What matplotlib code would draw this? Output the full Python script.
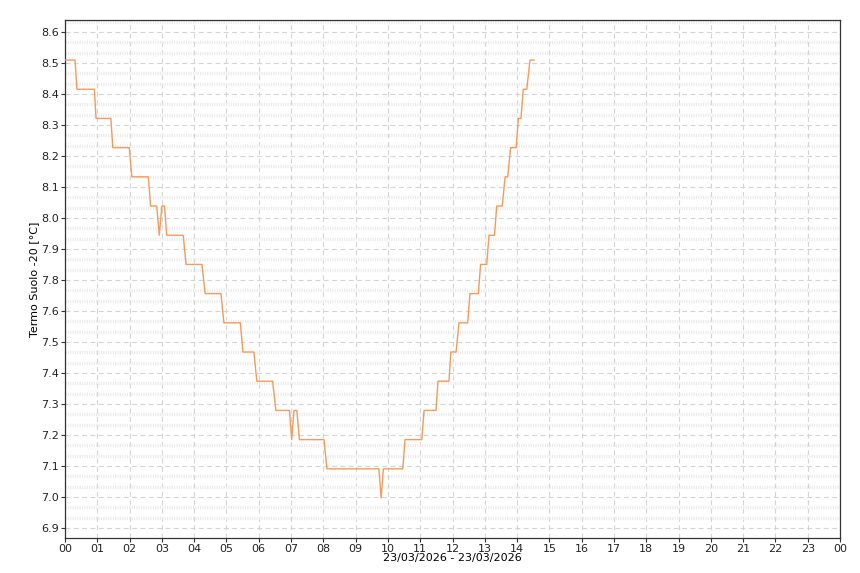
import numpy as np
import matplotlib.pyplot as plt
from matplotlib.ticker import FixedLocator, FormatStrFormatter

plt.rcParams['lines.scale_dashes'] = False

# polyline vertices (hours of 23/03/2026, degrees C)
hours = [0.00, 0.31, 0.37, 0.91, 0.96, 1.42, 1.48, 1.99, 2.07, 2.58,
         2.65, 2.84, 2.92, 3.00, 3.08, 3.15, 3.66, 3.75, 4.24, 4.34,
         4.83, 4.92, 5.43, 5.51, 5.85, 5.94, 6.43, 6.53, 6.95, 7.02,
         7.09, 7.18, 7.26, 8.02, 8.11, 9.72, 9.79, 9.86, 10.46, 10.53,
         11.05, 11.12, 11.49, 11.55, 11.89, 11.95, 12.11, 12.20, 12.47, 12.54,
         12.80, 12.87, 13.06, 13.13, 13.30, 13.37, 13.54, 13.63, 13.71, 13.80,
         13.97, 14.04, 14.12, 14.19, 14.30, 14.40, 14.53]
temps = [8.506, 8.506, 8.406, 8.406, 8.306, 8.306, 8.206, 8.206, 8.106, 8.106,
         8.006, 8.006, 7.906, 8.006, 8.006, 7.906, 7.906, 7.806, 7.806, 7.706,
         7.706, 7.606, 7.606, 7.506, 7.506, 7.406, 7.406, 7.306, 7.306, 7.206,
         7.306, 7.306, 7.206, 7.206, 7.106, 7.106, 7.006, 7.106, 7.106, 7.206,
         7.206, 7.306, 7.306, 7.406, 7.406, 7.506, 7.506, 7.606, 7.606, 7.706,
         7.706, 7.806, 7.806, 7.906, 7.906, 8.006, 8.006, 8.106, 8.106, 8.206,
         8.206, 8.306, 8.306, 8.406, 8.406, 8.506, 8.506]

hour_labels = ['%02d' % h for h in range(24)] + ['00']

fig = plt.figure(figsize=(8.6, 5.73), dpi=100)
ax = fig.add_axes([65/860, 1-538/573, 775/860, 518/573])

ax.plot(hours, temps, color='#f39b5c', lw=1.0, zorder=4)

# axis ticks (auto range steps of the original tool)
y_top, y_step = 8.602, 0.1062
yt = y_top - y_step*np.arange(17)
ax.yaxis.set_major_locator(FixedLocator(yt))
ax.yaxis.set_major_formatter(FormatStrFormatter('%.1f'))
ax.yaxis.set_minor_locator(FixedLocator(np.arange(y_top + y_step, 6.8, -y_step/3)))
ax.set_ylim(y_top - 506/292, y_top + 12/292)

ax.set_xlim(0, 24)
ax.set_xticks(range(25))
ax.set_xticklabels(hour_labels)

ax.grid(which='major', color='#d4d4d4', lw=0.8, linestyle=(0, (3.5, 2.5)), zorder=1)
ax.grid(which='minor', axis='y', color='#eaeaea', lw=2.4, linestyle=(0, (0.8, 0.9)), zorder=0)

ax.tick_params(which='major', direction='out', length=3, width=0.8, color='#333333',
               labelsize=8, labelcolor='#222222', pad=1.5)
ax.tick_params(which='minor', length=0)
for s in ax.spines.values():
    s.set_color('#333333')
    s.set_linewidth(0.9)

ax.set_ylabel('Termo Suolo -20 [°C]', fontsize=8, labelpad=1)
ax.set_xlabel('23/03/2026 - 23/03/2026', fontsize=8, labelpad=-1)

fig.savefig('out.png', dpi=100)
